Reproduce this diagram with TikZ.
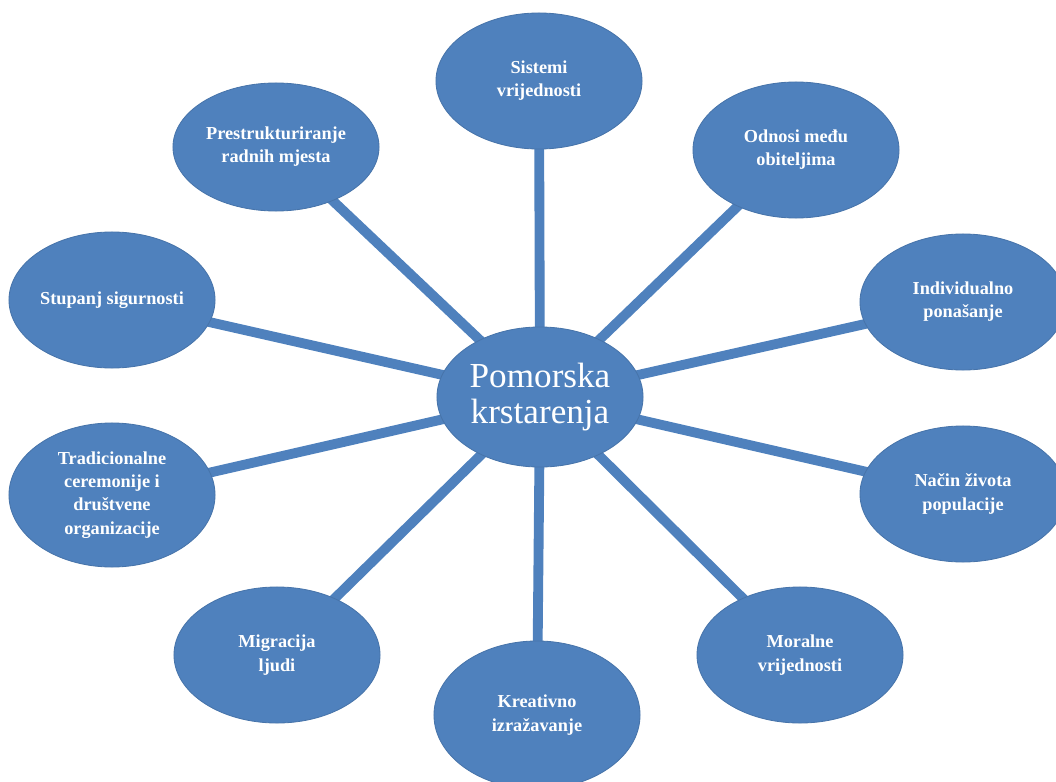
\documentclass[tikz,border=0pt]{standalone}
\usepackage{fontspec}
\setmainfont{Liberation Serif}
\usetikzlibrary{shapes.geometric,backgrounds}
\definecolor{bubbleblue}{HTML}{4F81BD}

\begin{document}
\begin{tikzpicture}[x=0.025cm, y=-0.025cm,
  bubble/.style={ellipse, fill=bubbleblue, draw=bubbleblue!90!black, line width=0.6pt,
    minimum width=5.15cm, minimum height=3.4cm, inner sep=0pt, align=center,
    text=white, font=\bfseries\fontsize{13}{16.5}\selectfont},
  spoke/.style={draw=bubbleblue, line width=7pt}]

\useasboundingbox (0,0) rectangle (1056,781);

% --- Centre ---
\node (hub) [bubble, minimum height=3.5cm, font=\fontsize{25}{25}\selectfont] at (540,397) {Pomorska\\krstarenja};

% --- Outer ring ---
\node (sistemi) [bubble] at (539,81) {Sistemi\\vrijednosti};
\node (odnosi) [bubble] at (796,150) {Odnosi među\\obiteljima};
\node (individualno) [bubble] at (963,302) {Individualno\\ponašanje};
\node (nacin) [bubble] at (963,494) {Način života\\populacije};
\node (moralne) [bubble] at (800,655) {Moralne\\vrijednosti};
\node (kreativno) [bubble, minimum height=3.7cm] at (537,715) {Kreativno\\izražavanje};
\node (migracija) [bubble] at (277,655) {Migracija\\ljudi};
\node (tradicija) [bubble, minimum height=3.6cm] at (112,495) {Tradicionalne\\ceremonije i\\društvene\\organizacije};
\node (sigurnost) [bubble] at (112,300) {Stupanj sigurnosti};
\node (radna) [bubble, minimum height=3.2cm] at (276,147) {Prestrukturiranje\\radnih mjesta};

% --- Spokes ---
\begin{scope}[on background layer]
\foreach \n in {sistemi,odnosi,individualno,nacin,moralne,kreativno,migracija,tradicija,sigurnost,radna}
  \draw[spoke] (hub.center) -- (\n.center);
\end{scope}

\end{tikzpicture}
\end{document}
